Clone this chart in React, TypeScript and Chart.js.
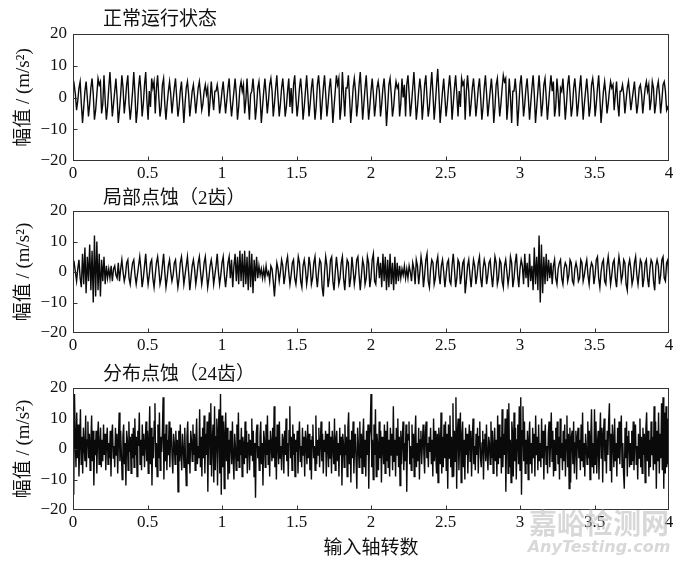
import React, { useEffect, useRef } from "react";
import { Chart, registerables } from "chart.js";

Chart.register(...registerables);

// ---- axis ranges & labels ----
const X_MIN = 0;
const X_MAX = 4;
const X_TICK_STEP = 0.5;
const Y_MIN = -20;
const Y_MAX = 20;
const Y_TICK_STEP = 10;

const panelTitles = ["正常运行状态", "局部点蚀（2齿）", "分布点蚀（24齿）"];
const yAxisTitle = "幅值 / (m/s²)";
const xAxisTitle = "输入轴转数";
const watermarkCn = "嘉峪检测网";
const watermarkEn = "AnyTesting.com";

// ---- signals (amplitude, m/s²), equally spaced samples over 0..4 revolutions ----
const normalValues = [
  2, 4, 1, -4, -1, 3, 5, -2, -8, -3,
  2, 5, 0, -6, -2, 3, 6, 1, -7, -4,
  1, 6, 4, 5, -5, -2, 7, -1, -7, -3,
  3, 8, 1, -6, -2, 2, 6, 0, -8, -4,
  1, 7, 3, -5, -1, 4, 7, -2, -7, -3,
  2, 8, 1, -8, -4, 3, 7, 2, -6, -2,
  4, 8, -1, -7, 2, -3, 6, 3, 5, -5,
  3, 7, 0, -6, -3, 4, 6, -2, -7, -2,
  2, 5, 1, -5, -1, 3, 6, 0, -6, -3,
  2, 5, -1, -8, -2, 3, 5, 1, -6, -2,
  2, 4, 0, -5, -1, 3, 5, 1, -4, -2,
  2, 4, 1, 3, -6, -1, 5, 0, -4, 2,
  2, 4, 1, -5, -2, 2, 5, 0, -5, -1,
  3, 6, -1, -6, -2, 2, 6, 1, -7, -3,
  3, 5, 2, 4, -5, -1, 6, -1, -7, 1,
  2, 6, 1, -7, -3, 3, 5, 0, -8, -3,
  2, 6, 1, -5, -1, 4, 6, 2, -6, -2,
  3, 7, 0, -6, -2, 3, 6, 1, -6, -3,
  2, 6, -3, 3, -5, 4, 7, 0, -6, -2,
  3, 6, 1, -7, -3, 2, 7, 1, -6, -2,
  3, 6, 0, -7, -3, 4, 7, 2, -7, -2,
  3, 7, 1, -6, -2, 3, 6, 0, -8, -3,
  2, 7, 4, 6, -7, -3, 8, 1, -6, 3,
  3, 7, 0, -8, -3, 3, 6, 2, -6, -2,
  4, 8, 1, -7, -2, 3, 7, 0, -7, -3,
  2, 6, 1, -6, -2, 3, 5, 2, -6, -2,
  3, 6, 0, -9, -3, 4, 6, 1, -6, -3,
  2, 5, 3, 4, -6, -2, 6, 0, 4, -6,
  4, 7, 1, -6, -2, 3, 8, 1, -7, -3,
  2, 6, 2, -7, -2, 4, 7, 0, -6, -3,
  3, 8, 1, -7, -2, 4, 9, 1, -8, -3,
  2, 6, 0, -6, -2, 3, 7, 2, -7, -2,
  3, 7, 1, -6, 2, -3, 6, 4, 5, -7,
  2, 7, 2, -6, -2, 3, 6, 1, -6, -2,
  3, 6, 0, -7, -3, 3, 7, 1, -6, -2,
  2, 6, 1, -8, -3, 4, 6, 0, -6, -2,
  3, 7, 5, 6, -7, -2, 6, 0, -8, 2,
  2, 6, 1, -9, -3, 4, 7, 1, -6, -2,
  3, 6, 0, -7, -2, 3, 7, 1, -8, -3,
  2, 7, 1, -6, -2, 4, 6, 0, -7, -2,
  3, 7, 2, 5, -6, -3, 6, 1, -6, 3,
  2, 6, 0, -7, -2, 4, 7, 1, -6, -3,
  3, 6, 1, -6, -2, 3, 7, 0, -7, -2,
  2, 6, 1, -6, -3, 4, 6, 2, -6, -2,
  3, 7, 0, -8, -3, 2, 5, 1, -5, -2,
  2, 5, 3, 4, -4, 1, 5, -2, -6, 2,
  2, 4, 1, -5, -1, 3, 5, 1, -4, -1,
  2, 5, 0, -5, -2, 3, 4, 1, -5, -1,
  3, 5, 2, 4, -4, -1, 5, 3, -5, -2,
  3, 5, 1, -5, -1, 4, 5, 2, -4, -3,
  -4,
];

const localPitValues = [
  2, 3, 0, -3, 1, 4, -2, -5, 6, -4,
  8, -7, 5, -3, 9, -6, 7, -10, 12, -8,
  10, -6, 6, -8, 4, -3, 5, -4, 2, -2,
  1, -2, 2, -3, 1, 2, -1, -2, 3, -3,
  1, 4, 0, -3, -1, 3, 4, -2, -4, 0,
  3, 4, -1, -4, -1, 2, 5, 1, -5, -2,
  2, 6, 0, -4, -1, 3, 4, -2, -5, -1,
  3, 5, 1, -4, -2, 2, 6, 0, -5, -2,
  2, 4, 0, -3, -1, 3, 4, -1, -5, -2,
  3, 5, 1, -4, -1, 2, 5, 0, -6, -2,
  2, 4, 1, -4, -1, 3, 5, 0, -4, -1,
  3, 5, 0, -5, -2, 2, 4, 1, -4, -1,
  2, 6, 0, -4, -1, 3, 5, -1, -5, -1,
  3, 5, -2, 4, -5, 2, 6, -3, 5, -4,
  7, -3, 6, -5, 7, -4, 5, -6, 7, -5,
  6, -7, 4, -3, 5, -2, 2, -1, 1, -2,
  1, -2, 2, -1, 0, -3, 2, 1, -3, -8,
  -2, 3, 1, -3, 0, 4, 2, -4, -1, 3,
  5, 0, -4, -1, 3, 4, -2, -4, 0, 5,
  3, -3, -5, 2, 4, 1, -4, -1, 5, 2,
  -4, -2, 3, 5, -1, -5, 0, 4, 3, -5,
  -8, 0, 5, 2, -5, -2, 4, 5, -3, -6,
  0, 5, 1, -4, -2, 3, 5, -2, -6, 0,
  4, 3, -5, -2, 5, 1, -4, -1, 4, 5,
  -1, -6, -1, 4, 2, -4, -2, 5, 3, -5,
  -2, 4, 6, -3, -4, 2, 5, -2, 3, -5,
  6, -3, 5, -6, 4, -5, 6, -4, 3, -6,
  5, -4, 3, -3, 2, -2, 1, -1, 2, -2,
  1, -2, 2, 0, -3, 3, 1, -4, 4, 2,
  -4, 0, 5, 2, -5, -1, 4, 6, -3, -5,
  1, 4, 3, -4, -2, 3, 5, -1, -4, 2,
  4, 0, -5, -1, 3, 4, -3, -4, 2, 6,
  1, -5, -2, 4, 3, -4, -1, 3, 4, -7,
  -3, 2, 4, -1, -5, 0, 4, 2, -4, -1,
  3, 5, -2, -5, 1, 4, 2, -4, -1, 3,
  4, -1, -5, 0, 5, 3, -4, -2, 4, 3,
  -3, -5, 2, 4, 0, -4, -1, 5, 3, -5,
  -2, 3, 6, -1, -5, 1, 4, 2, -4, 6,
  -2, 3, -5, 6, -3, 2, -6, 8, -4, 5,
  -6, 12, -10, 9, -7, 5, -4, 6, -3, 4,
  -2, 3, -4, 2, 4, -2, -4, 1, 3, 4,
  -2, -4, 1, 3, 2, -3, -1, 4, 3, -3,
  -4, 1, 3, 1, -3, -2, 4, 3, -3, -1,
  2, 4, -1, -4, 1, 3, 2, -4, -1, 4,
  5, -2, -5, 0, 3, 4, -3, -4, 2, 5,
  1, -4, -1, 3, 4, -2, -5, 1, 5, 2,
  -3, -1, 4, 3, -4, -6, 2, 4, 1, -4,
  -2, 3, 5, -1, -4, 0, 4, 3, -5, -2,
  3, 4, -2, -5, 1, 4, 3, -3, -6, 2,
  4, 2, -4, -1, 4, 5, -2, -3, 3, 4,
  -4,
];

const distributedPitValues = [
  16, -15, 18, 4, -6, 12, -3, 8, -9, 2,
  13, -5, 4, -8, 7, 1, -4, 11, -6, 3,
  9, -3, 5, -7, 2, 11, -4, 6, -12, 3,
  -2, 6, -8, 4, 9, -5, 1, 7, -6, 3,
  -4, 8, -2, 5, -7, 3, 7, -5, 2, -3,
  6, -9, 4, 8, -3, 1, -6, 7, -2, 5,
  -8, 3, 12, -4, 6, -2, -10, 4, 8, -5,
  2, -12, 6, 3, -7, 9, -1, 4, -8, 5,
  -3, 7, -6, 10, -2, 4, -9, 6, 1, 12,
  -5, 3, -7, 8, -2, 5, -6, 2, 9, -4,
  6, -8, 3, 14, -5, 7, -12, 4, -3, 9,
  15, -6, 2, -9, 8, -3, 12, -7, 4, -1,
  6, 17, -10, 5, -4, 8, -7, 3, -2, 9,
  -6, 4, 7, -3, -8, 5, 2, -5, 6, -2,
  3, -14, 6, -4, 8, -2, -7, 5, 1, -6,
  7, -3, -12, 4, 9, -5, 2, -8, 6, 3,
  -4, 8, -2, 5, -7, 3, 10, -5, 1, -3,
  13, -6, 4, -9, 7, -3, 11, -8, 5, -2,
  9, -14, 6, 12, -5, 15, -9, 3, 8, -11,
  14, -7, 4, 10, -12, 6, 13, -8, 18, -15,
  11, -6, 9, -13, 5, 12, -4, 7, -10, 3,
  -8, 6, 2, -5, 9, -3, -10, 5, 1, -7,
  8, -4, 12, -6, 3, -2, 7, -9, 4, 1,
  -5, 9, -3, 6, -8, 2, 5, -7, 3, -2,
  10, -4, 6, -9, 2, -16, 5, 8, -3, 1,
  -7, 4, 9, -5, 2, -12, 6, 3, -6, 8,
  -2, 11, -5, 3, -9, 6, 2, -4, 7, -3,
  14, -6, 4, -10, 8, 2, -5, 9, -3, 1,
  -7, 5, 3, -8, 6, -2, 10, -4, 2, -9,
  6, 14, -3, 4, -7, 8, -2, 5, -9, 3,
  -1, 6, -8, 3, 9, -4, 1, -6, 7, -2,
  4, -9, 6, 2, -5, 8, -3, 5, -7, 3,
  -10, 4, 8, -3, 1, -7, 11, -5, 3, -2,
  7, -6, 2, 9, -4, 5, -8, 3, -1, 6,
  -9, 5, 2, -6, 9, -3, 4, -8, 6, 1,
  -5, 10, -7, 3, 6, -4, 2, -9, 7, -2,
  4, -12, 5, 2, -6, 8, -2, 4, -9, 7,
  12, -5, 3, -11, 6, -3, 9, -8, 2, 5,
  -4, -13, 7, 2, -6, 9, -3, 5, -8, 4,
  10, -6, 3, -9, 6, -2, 8, -13, 4, 7,
  18, -6, 3, -10, 8, -2, 13, -9, 5, 1,
  -7, 9, -3, 6, -11, 4, 2, -5, 8, -8,
  6, -4, 9, -6, 3, -9, 7, -2, 5, -7,
  14, -4, 3, -9, 7, -2, 10, -6, 4, -12,
  6, -5, 3, 9, -7, 2, -4, 8, -14, 5,
  3, 9, -5, 1, -7, 8, -3, 5, -9, 4,
  11, -6, 2, -4, 7, -10, 3, 6, -5, 2,
  8, -2, -8, 5, 9, -3, 2, -6, 4, -1,
  7, -5, 3, -9, 10, -4, 6, -2, -8, 5,
  -11, 7, 3, -5, 12, -8, 4, -6, 8, -3,
  9, -7, 5, -13, 8, -3, 11, -6, 4, -9,
  15, -9, 6, -4, 17, -13, 6, 10, -7, 3,
  12, -11, 4, 9, -6, 3, -10, 7, -2, 5,
  -8, 2, 8, -4, 6, -9, 3, 10, -5, 1,
  -7, 5, -2, 7, -8, 4, 9, -3, -6, 2,
  6, -10, 3, 5, -4, 8, -2, -7, 4, 2,
  -5, 9, -3, 6, -8, 1, 7, -4, 3, -9,
  11, -5, 8, -3, 4, -8, 13, -6, 5, -2,
  10, -14, 4, 13, -8, 15, -6, 3, -11, 9,
  5, -9, 12, -4, 7, -10, 3, 8, -5, 14,
  -7, 17, -15, 6, 14, -4, 9, -8, 3, -5,
  6, -10, 3, 9, -5, 2, -8, 7, -3, 5,
  -9, 11, -2, 4, -7, 8, -4, 2, -6, 10,
  -3, 6, -10, 3, 8, -5, 1, -8, 5, 9,
  -6, 2, 12, -4, 6, -9, 3, -7, 7, -2,
  9, -5, 4, -10, 10, -3, 2, -7, 6, -4,
  8, -9, 3, 11, -6, 5, -13, 7, -11, 4,
  6, -5, 9, -8, 2, 6, -10, 4, 7, -3,
  3, -7, 8, -4, 12, -6, 2, -9, 5, 1,
  -5, 9, -3, 6, -10, 4, 13, -6, 2, -8,
  13, -5, 9, -8, 2, 6, -10, 4, 12, -3,
  7, -11, 5, 10, -4, 3, -8, 6, -2, 9,
  15, -7, 5, -11, 8, 3, -6, 10, -4, 2,
  -9, 7, -3, 9, -5, 4, 11, -6, 2, -8,
  -13, 7, -3, 9, -9, 4, 6, -6, 2, -5,
  6, -4, 9, -7, 3, 8, -5, 1, -10, 5,
  -3, 10, -6, 4, -8, 7, -2, 5, -11, 7,
  12, -4, 6, -9, 3, -6, 9, -2, 4, -7,
  14, -5, 9, -13, 6, -4, 12, -8, 5, -3,
  15, -7, 17, -13, 12, -8, 14, -6, 10, -5,
  -3,
];

const SERIF = '"Liberation Serif", "Times New Roman", "Noto Sans CJK SC", serif';
const TEXT_COLOR = "#111111";

const panelDecor = {
  id: "panelDecor",
  afterDraw(chart: any, _args: any, opts: any) {
    const { ctx, chartArea: a, scales } = chart;
    ctx.save();
    ctx.strokeStyle = "#333333";
    ctx.lineWidth = 1;
    const l = Math.round(a.left) + 0.5;
    const t = Math.round(a.top) + 0.5;
    const r = Math.round(a.right) - 0.5;
    const b = Math.round(a.bottom) - 0.5;
    ctx.strokeRect(l, t, r - l, b - t);
    // inward ticks (skip the ones lying on the frame)
    ctx.beginPath();
    scales.x.ticks.forEach((tk: any) => {
      if (tk.value <= X_MIN || tk.value >= X_MAX) return;
      const px = Math.round(scales.x.getPixelForValue(tk.value)) + 0.5;
      ctx.moveTo(px, b);
      ctx.lineTo(px, b - 4);
    });
    scales.y.ticks.forEach((tk: any) => {
      if (tk.value <= Y_MIN || tk.value >= Y_MAX) return;
      const py = Math.round(scales.y.getPixelForValue(tk.value)) + 0.5;
      ctx.moveTo(l, py);
      ctx.lineTo(l + 4, py);
    });
    ctx.stroke();
    // panel title
    ctx.fillStyle = TEXT_COLOR;
    ctx.font = `19px ${SERIF}`;
    ctx.textAlign = "left";
    ctx.textBaseline = "middle";
    ctx.fillText(opts.title, opts.titleX, opts.titleY);
    // watermark
    if (opts.watermark) {
      ctx.globalAlpha = 0.55;
      ctx.fillStyle = "#b8b8b8";
      ctx.textAlign = "center";
      ctx.font = 'bold 28px "Noto Sans CJK SC", sans-serif';
      ctx.fillText(watermarkCn, 599, opts.wmY1);
      ctx.font = 'italic bold 16px "DejaVu Sans", sans-serif';
      ctx.fillText(watermarkEn, 599, opts.wmY2);
    }
    ctx.restore();
  },
};

type PanelDef = {
  top: number;
  height: number;
  padTop: number;
  xScaleHeight: number;
  values: number[];
  title: string;
  titleY: number;
  showXTitle: boolean;
  watermark: boolean;
};

const panels: PanelDef[] = [
  { top: 0, height: 180, padTop: 34, xScaleHeight: 19, values: normalValues, title: panelTitles[0], titleY: 20, showXTitle: false, watermark: false },
  { top: 180, height: 175, padTop: 31, xScaleHeight: 22, values: localPitValues, title: panelTitles[1], titleY: 19, showXTitle: false, watermark: false },
  { top: 355, height: 209, padTop: 33, xScaleHeight: 54, values: distributedPitValues, title: panelTitles[2], titleY: 20, showXTitle: true, watermark: true },
];

const WIDTH = 680;

function Panel({ def }: { def: PanelDef }) {
  const ref = useRef<HTMLCanvasElement | null>(null);
  useEffect(() => {
    if (!ref.current) return;
    const n = def.values.length;
    const data = def.values.map((v, i) => ({ x: X_MIN + (i * (X_MAX - X_MIN)) / (n - 1), y: v }));
    const chart = new Chart(ref.current, {
      type: "line",
      data: {
        datasets: [
          {
            data,
            borderColor: "#0a0a0a",
            borderWidth: 1.4,
            pointRadius: 0,
            tension: 0,
            fill: false,
          },
        ],
      },
      options: {
        responsive: false,
        maintainAspectRatio: false,
        animation: false,
        events: [],
        layout: { padding: { top: def.padTop, right: 11, left: 0, bottom: 0 } },
        plugins: {
          legend: { display: false },
          tooltip: { enabled: false },
          // @ts-ignore
          panelDecor: {
            title: def.title,
            titleX: 103,
            titleY: def.titleY,
            watermark: def.watermark,
            wmY1: 168,
            wmY2: 193,
          },
        },
        scales: {
          x: {
            type: "linear",
            min: X_MIN,
            max: X_MAX,
            grid: { display: false, drawTicks: false },
            border: { display: false },
            ticks: {
              stepSize: X_TICK_STEP,
              padding: 2,
              color: TEXT_COLOR,
              maxRotation: 0,
              autoSkip: false,
              font: { family: SERIF, size: 17 },
              callback: (v: any) => String(Number(v)),
            },
            title: {
              display: def.showXTitle,
              text: xAxisTitle,
              color: TEXT_COLOR,
              font: { family: SERIF, size: 19 },
              padding: { top: 4, bottom: 4 },
            },
            afterFit: (s: any) => {
              s.height = def.xScaleHeight;
            },
          },
          y: {
            type: "linear",
            min: Y_MIN,
            max: Y_MAX,
            grid: { display: false, drawTicks: false },
            border: { display: false },
            ticks: {
              stepSize: Y_TICK_STEP,
              padding: 6,
              color: TEXT_COLOR,
              font: { family: SERIF, size: 17 },
              callback: (v: any) => String(Number(v)).replace("-", "\u2212"),
            },
            title: {
              display: true,
              text: yAxisTitle,
              color: TEXT_COLOR,
              font: { family: SERIF, size: 19 },
              padding: { top: 13, bottom: 0 },
            },
            afterFit: (s: any) => {
              s.width = 73;
            },
          },
        },
      },
      plugins: [panelDecor as any],
    });
    return () => chart.destroy();
  }, [def]);
  return (
    <canvas
      ref={ref}
      width={WIDTH}
      height={def.height}
      style={{ position: "absolute", left: 0, top: def.top, width: WIDTH, height: def.height }}
    />
  );
}

export default function App() {
  return (
    <div style={{ position: "absolute", left: 0, top: 0, width: WIDTH, height: 564, background: "#ffffff" }}>
      {panels.map((p, i) => (
        <Panel key={i} def={p} />
      ))}
    </div>
  );
}
